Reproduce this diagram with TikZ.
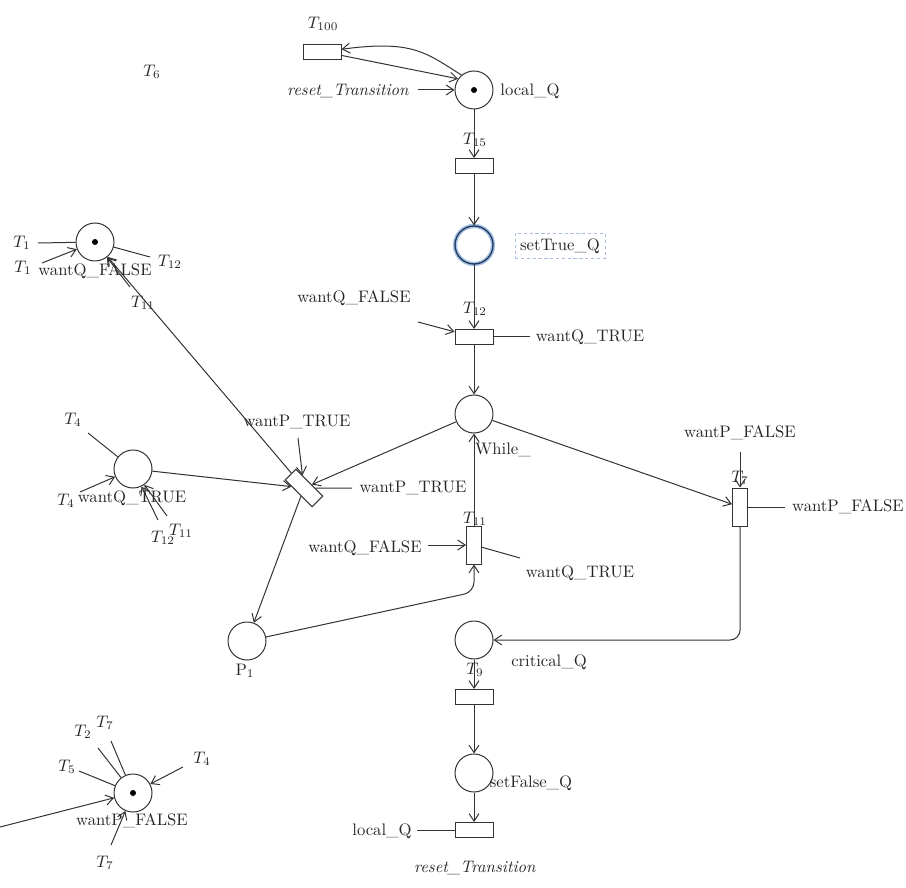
\documentclass[tikz,border=0pt]{standalone}
\usetikzlibrary{arrows.meta}
\begin{document}
\begin{tikzpicture}[x=0.6pt,y=-0.6pt,line width=0.6pt,
  every node/.style={text=black!85},
  place/.style={circle,draw=black!80,fill=white,minimum size=22.8pt,inner sep=0pt},
  trans/.style={rectangle,draw=black!80,fill=white,minimum width=22.8pt,minimum height=9pt,inner sep=0pt},
  transv/.style={trans,minimum width=9pt,minimum height=22.8pt},
  arc/.style={draw=black!80,-{Straight Barb[length=4.5pt,width=6pt]}},
  ln/.style={draw=black!80},
  lbl/.style={inner sep=0pt}]
\useasboundingbox (0,0) rectangle (906,888);

% places
\node[place] (lq) at (474,90) {};
\fill[black] (lq.center) circle (1.8pt);
\node[place,draw=none] (stq) at (474,245) {};
\draw[line width=2.6pt,color={rgb,255:red,165;green,195;blue,230}] (stq.center) circle (11.4pt);
\draw[line width=0.8pt,color={rgb,255:red,35;green,55;blue,90}] (stq.center) circle (11.4pt);
\node[place] (wh) at (474,414) {};
\node[place] (p1) at (247,641) {};
\node[place] (cq) at (474,640) {};
\node[place] (sfq) at (474,773) {};
\node[place] (wqf) at (95,242) {};
\fill[black] (wqf.center) circle (1.8pt);
\node[place] (wqt) at (133,469) {};
\node[place] (wpf) at (133,793) {};
\fill[black] (wpf.center) circle (1.8pt);

% transitions
\node[trans] (t100) at (322,52) {};
\node[trans] (t15) at (474,166) {};
\node[trans] (t12) at (474,337) {};
\node[trans,rotate=-45] (tr) at (304,488) {};
\node[transv] (t11) at (474,545) {};
\node[transv] (t7) at (740,507) {};
\node[trans] (t9) at (474,697) {};
\node[trans] (trs) at (474,830) {};

% labels
\node[lbl] (lT100) at (323,24) {$T_{100}$};
\node[lbl] (lT6) at (152,72) {$T_6$};
\node[lbl] (lrt1) at (348,91) {\textit{reset\_Transition}};
\node[lbl] (llq) at (530,91) {local\_Q};
\node[lbl] (lT15) at (475,140) {$T_{15}$};
\node[draw={rgb,255:red,170;green,190;blue,225},dash pattern=on 2pt off 1.5pt,line width=0.4pt,inner sep=3pt] (lstq) at (560,246) {setTrue\_Q};
\node[lbl] (lT12) at (475,309) {$T_{12}$};
\node[lbl] (lwqf1) at (354,298) {wantQ\_FALSE};
\node[lbl] (lwqt1) at (590,337) {wantQ\_TRUE};
\node[lbl] (lwh) at (503,450) {While\_};
\node[lbl] (lT11) at (475,519) {$T_{11}$};
\node[lbl] (lwqf2) at (365,548) {wantQ\_FALSE};
\node[lbl] (lwqt2) at (580,573) {wantQ\_TRUE};
\node[lbl] (lwpt1) at (297,422) {wantP\_TRUE};
\node[lbl] (lwpt2) at (413,488) {wantP\_TRUE};
\node[lbl] (lT7) at (740,478) {$T_7$};
\node[lbl] (lwpf1) at (740,433) {wantP\_FALSE};
\node[lbl] (lwpf2) at (848,507) {wantP\_FALSE};
\node[lbl] (lcq) at (549,662) {critical\_Q};
\node[lbl] (lT9) at (475,670) {$T_9$};
\node[lbl] (lsfq) at (531,783) {setFalse\_Q};
\node[lbl] (lrt2) at (475,868) {\textit{reset\_Transition}};
\node[lbl] (llq2) at (382,831) {local\_Q};
\node[lbl] (lp1) at (245,671) {$\mathrm{P}_1$};
% left column labels
\node[lbl] (la1) at (22,243) {$T_1$};
\node[lbl] (la2) at (23,268) {$T_1$};
\node[lbl] (la3) at (170,262) {$T_{12}$};
\node[lbl] (la4) at (95,271) {wantQ\_FALSE};
\node[lbl] (la5) at (143,303) {$T_{11}$};
\node[lbl] (lb1) at (73,420) {$T_4$};
\node[lbl] (lb2) at (66,501) {$T_4$};
\node[lbl] (lb3) at (132,498) {wantQ\_TRUE};
\node[lbl] (lb4) at (163,538) {$T_{12}$};
\node[lbl] (lb5) at (181,531) {$T_{11}$};
\node[lbl] (lc1) at (83,732) {$T_2$};
\node[lbl] (lc2) at (105,723) {$T_7$};
\node[lbl] (lc3) at (67,767) {$T_5$};
\node[lbl] (lc4) at (202,759) {$T_4$};
\node[lbl] (lc5) at (132,821) {wantP\_FALSE};
\node[lbl] (lc6) at (105,863) {$T_7$};

% free ends
\coordinate (rtA) at (418,90);
\coordinate (c1) at (418,322);
\coordinate (c2) at (530,337);
\coordinate (c3) at (428,545);
\coordinate (c4) at (520,558);
\coordinate (c5) at (740,452);
\coordinate (c6) at (785,507);
\coordinate (c7) at (417,830);
\coordinate (c8) at (298,438);
\coordinate (c9) at (352,488);
\coordinate (k1) at (474,592);
\coordinate (d1) at (38,243);
\coordinate (d2) at (42,263);
\coordinate (d3) at (150,257);
\coordinate (d4) at (130,287);
\coordinate (e1) at (88,433);
\coordinate (e2) at (80,492);
\coordinate (e3) at (158,520);
\coordinate (e4) at (167,516);
\coordinate (f1) at (98,748);
\coordinate (f2) at (111,741);
\coordinate (f3) at (79,771);
\coordinate (f4) at (183,767);
\coordinate (f5) at (111,845);
\coordinate (f6) at (0,827);

% connectors
\draw[arc] (t100.-10) -- (lq.145);
\draw[arc] (lq.130) .. controls (425,52) and (412,40) .. (t100.8);
\draw[arc] (rtA) -- (lq);
\draw[arc] (lq) -- (t15);
\draw[arc] (t15) -- (stq);
\draw[arc] (stq) -- (t12);
\draw[arc] (c1) -- (t12);
\draw[ln] (t12) -- (c2);
\draw[arc] (t12) -- (wh);
\draw[arc] (t11) -- (wh);
\draw[arc] (c3) -- (t11);
\draw[ln] (t11) -- (c4);
\draw[arc,rounded corners=6pt] (p1.12) -- (k1) -- (t11.south);
\draw[arc] (wh) -- (tr);
\draw[arc] (wh) -- (t7);
\draw[arc] (c5) -- (t7);
\draw[ln] (t7) -- (c6);
\draw[arc,rounded corners=6pt] (t7.south) |- (cq);
\draw[arc] (cq) -- (t9);
\draw[arc] (t9) -- (sfq);
\draw[arc] (sfq) -- (trs);
\draw[ln] (c7) -- (trs);
\draw[arc] (wqt) -- (tr);
\draw[arc] (tr) -- (p1);
\draw[arc] (c8) -- (tr);
\draw[ln] (tr) -- (c9);
\draw[arc] (tr) -- (wqf);
\draw[ln] (d1) -- (wqf);
\draw[arc] (d2) -- (wqf);
\draw[ln] (d3) -- (wqf);
\draw[arc] (d4) -- (wqf);
\draw[ln] (e1) -- (wqt);
\draw[arc] (e2) -- (wqt);
\draw[arc] (e3) -- (wqt);
\draw[arc] (e4) -- (wqt);
\draw[ln] (f1) -- (wpf);
\draw[ln] (f2) -- (wpf);
\draw[ln] (f3) -- (wpf);
\draw[arc] (f4) -- (wpf);
\draw[arc] (f5) -- (wpf);
\draw[arc] (f6) -- (wpf);
\end{tikzpicture}
\end{document}
